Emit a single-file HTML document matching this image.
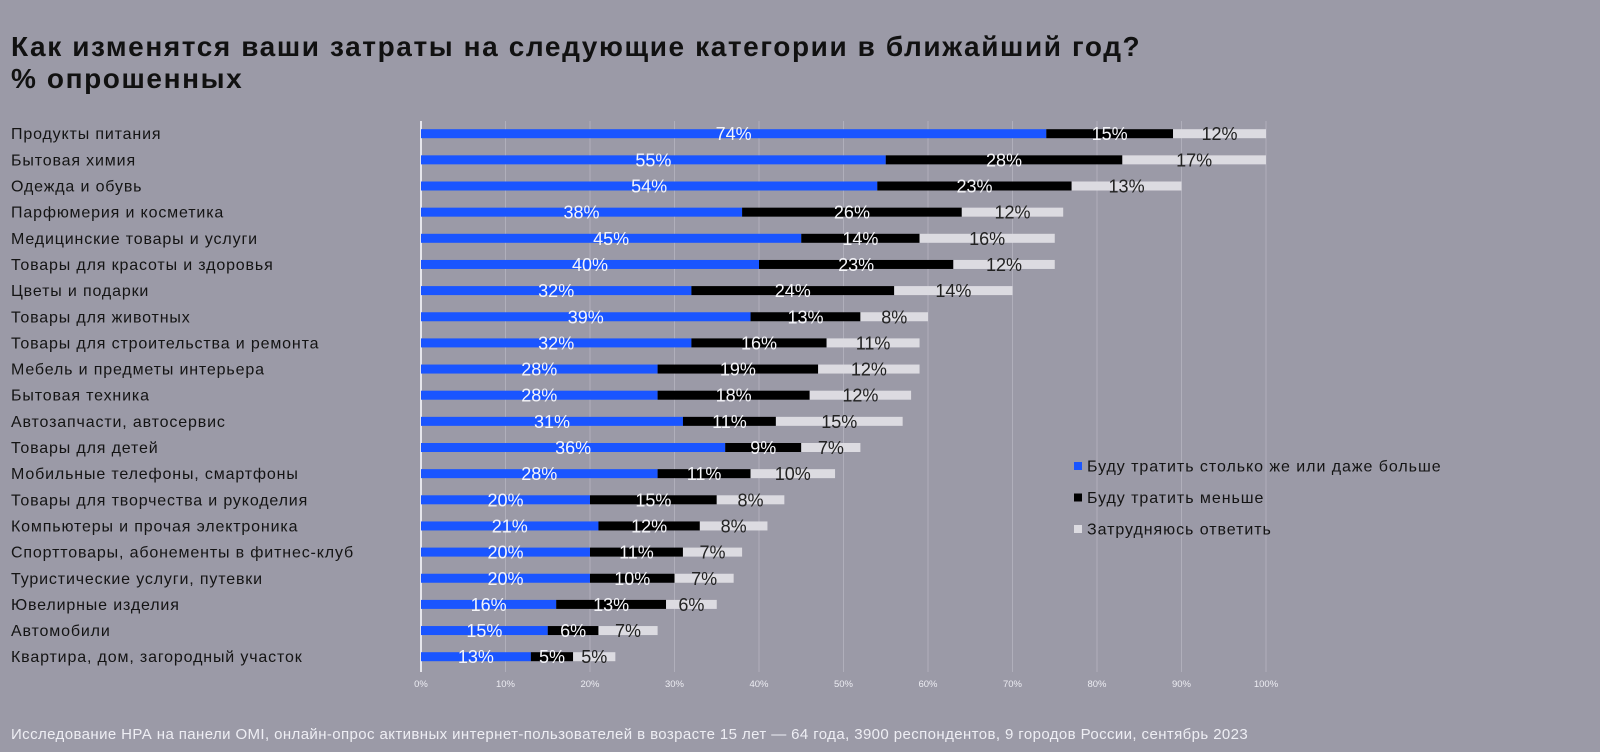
<!DOCTYPE html>
<html><head><meta charset="utf-8">
<style>
html,body{margin:0;padding:0}
body{width:1600px;height:752px;background:#9b9aa7;overflow:hidden;font-family:"Liberation Sans","DejaVu Sans",sans-serif;position:relative}
.title{position:absolute;left:11px;top:31px;font-size:28px;letter-spacing:1.6px;font-weight:bold;color:#111;line-height:32px}
.footer{position:absolute;left:11px;top:726px;font-size:15px;letter-spacing:0.4px;color:#eeeef4}
svg{position:absolute;left:0;top:0}
</style></head><body>
<div class="title">Как изменятся ваши затраты на следующие категории в ближайший год?<br>% опрошенных</div>
<svg id="chart" width="1600" height="752"></svg>
<div class="footer">Исследование НРА на панели OMI, онлайн-опрос активных интернет-пользователей в возрасте 15 лет — 64 года, 3900 респондентов, 9 городов России, сентябрь 2023</div>
<script>
const categories=["Продукты питания","Бытовая химия","Одежда и обувь","Парфюмерия и косметика","Медицинские товары и услуги","Товары для красоты и здоровья","Цветы и подарки","Товары для животных","Товары для строительства и ремонта","Мебель и предметы интерьера","Бытовая техника","Автозапчасти, автосервис","Товары для детей","Мобильные телефоны, смартфоны","Товары для творчества и рукоделия","Компьютеры и прочая электроника","Спорттовары, абонементы в фитнес-клуб","Туристические услуги, путевки","Ювелирные изделия","Автомобили","Квартира, дом, загородный участок"];
const more=[74,55,54,38,45,40,32,39,32,28,28,31,36,28,20,21,20,20,16,15,13];
const less=[15,28,23,26,14,23,24,13,16,19,18,11,9,11,15,12,11,10,13,6,5];
const unsure=[12,17,13,12,16,12,14,8,11,12,12,15,7,10,8,8,7,7,6,7,5];
const ticks=[0,10,20,30,40,50,60,70,80,90,100];
const seriesNames=["Буду тратить столько же или даже больше","Буду тратить меньше","Затрудняюсь ответить"];
const colors=["#1a55ff","#000000","#dcdbe1"];

const NS="http://www.w3.org/2000/svg";
const svg=document.getElementById('chart');
const x=v=>421+v*8.45;
const y=i=>133.7+i*26.15;
function mk(tag,attrs,parent){const e=document.createElementNS(NS,tag);for(const k in attrs)e.setAttribute(k,attrs[k]);(parent||svg).appendChild(e);return e;}

ticks.forEach(t=>{
  const l=mk('line',{x1:x(t),x2:x(t),y1:121,y2:672,stroke:t===0?'#e6e6ec':'#b0afbb','stroke-width':t===0?2:1});
  
  
  const tx=mk('text',{x:x(t),y:687,'font-size':9.5,fill:'#ececf2','text-anchor':'middle'});
  tx.textContent=t+'%';
  
  
});

categories.forEach((c,i)=>{
  const cy=y(i);
  const lab=mk('text',{x:11,y:cy+5.5,'font-size':16,'letter-spacing':0.85,fill:'#141414'});
  lab.textContent=c;
  
  
  const vals=[more[i],less[i],unsure[i]];
  let acc=0;
  vals.forEach((v,s)=>{
    const w=Math.max(0,Math.min(acc+v,100)-acc);
    const r=mk('rect',{x:x(acc),y:cy-4.5,width:w*8.45,height:9,fill:colors[s]});
    
    
    const t=mk('text',{x:x(acc+w/2),y:cy+6.5,'font-size':18,'text-anchor':'middle',fill:s===2?'#222':'#f4f4f8'});
    t.textContent=v+'%';
    
    
    acc+=v;
  });
});

seriesNames.forEach((n,s)=>{
  const ly=466+s*31.5;
  const sq=mk('rect',{x:1074,y:ly-4,width:8,height:8,fill:colors[s]});
  
  
  const t=mk('text',{x:1087,y:ly+5.5,'font-size':16,'letter-spacing':0.95,fill:'#141414'});
  t.textContent=n;
  
  
});
</script>
</body></html>
